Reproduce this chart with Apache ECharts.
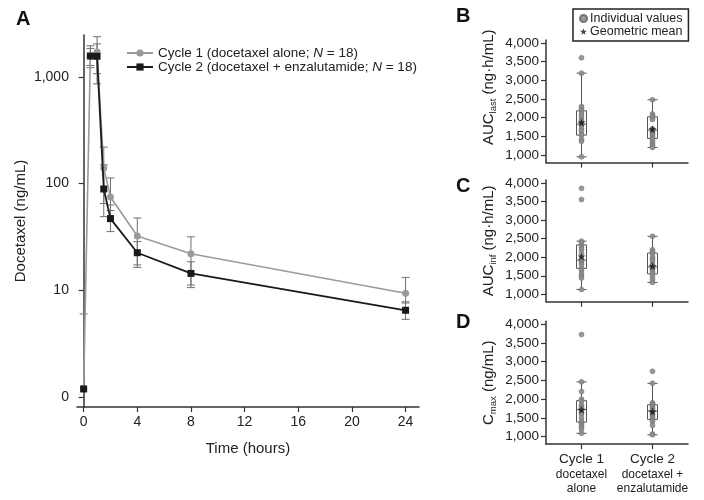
<!DOCTYPE html>
<html><head><meta charset="utf-8">
<script src="https://cdn.jsdelivr.net/npm/echarts@6/dist/echarts.min.js"></script>
<style>html,body{margin:0;padding:0;background:#fff}#c{width:704px;height:500px}</style>
</head><body><div id="c"></div>
<script>
// ---------- Panel A data ----------
const timeHours = [0, 0.5, 1, 1.5, 2, 4, 8, 24];
const cycle1Mean  = [1.2, 1550, 1710, 140, 75, 32.3, 22, 9.4];
const cycle1Lower = [1.2, 1280, 1070, 65, 56, 17.3, 11.2, 7.6];
const cycle1Upper = [6.0, 1850, 2380, 220, 113, 47.6, 31.7, 13.2];
const cycle2Mean  = [1.19, 1570, 1560, 89, 47, 22.5, 14.4, 6.5];
const cycle2Lower = [1.19, 1220, 860, 49, 35.5, 16.4, 10.6, 5.35];
const cycle2Upper = [1.19, 1960, 2040, 150, 63, 28.6, 18.5, 7.8];
const yTickValues = [1, 10, 100, 1000];
const yTickLabels = ['0', '10', '100', '1,000'];
const xTickValues = [0, 4, 8, 12, 16, 20, 24];
const seriesNames = ['Cycle 1 (docetaxel alone; N = 18)', 'Cycle 2 (docetaxel + enzalutamide; N = 18)'];

// ---------- Panels B–D data ----------
const boxCategories = ['Cycle 1', 'Cycle 2'];
const boxSubLabels = [['docetaxel', 'alone'], ['docetaxel +', 'enzalutamide']];
const boxTicks = [1000, 1500, 2000, 2500, 3000, 3500, 4000];

const aucLastC1 = [3600, 3190, 2300, 2250, 2180, 2100, 2030, 1950, 1900, 1840, 1800, 1720, 1650, 1560, 1530, 1420, 1370, 955];
const aucLastC2 = [2480, 2100, 2050, 2000, 1950, 1700, 1690, 1660, 1640, 1600, 1550, 1500, 1450, 1420, 1350, 1300, 1250, 1205];
const aucLastBox = [[955, 1534, 1828, 2183, 3190], [1205, 1446, 1668, 2023, 2480]];
const aucLastGeoMean = [1870, 1690];

const aucInfC1 = [3850, 3550, 2430, 2380, 2300, 2250, 2200, 2100, 1950, 1900, 1850, 1800, 1700, 1650, 1560, 1500, 1440, 1130];
const aucInfC2 = [2560, 2200, 2150, 2100, 2000, 1950, 1900, 1800, 1780, 1750, 1720, 1700, 1650, 1600, 1550, 1480, 1400, 1320];
const aucInfBox = [[1130, 1700, 1920, 2330, 2430], [1320, 1550, 1740, 2110, 2560]];
const aucInfGeoMean = [2020, 1760];

const cmaxC1 = [3720, 2460, 2200, 2000, 1950, 1850, 1800, 1750, 1700, 1650, 1600, 1500, 1400, 1350, 1300, 1250, 1200, 1090];
const cmaxC2 = [2740, 2420, 1900, 1880, 1850, 1800, 1750, 1700, 1680, 1650, 1600, 1550, 1500, 1450, 1400, 1300, 1070, 1050];
const cmaxBox = [[1090, 1390, 1720, 1960, 2460], [1050, 1460, 1680, 1850, 2420]];
const cmaxGeoMean = [1720, 1670];

// ---------- styling ----------
const FONT = 'Liberation Sans, Arial, Helvetica, sans-serif';
const AXIS = '#333';
const STAR = 'path://M50,0 L61.8,35.1 L98.8,35.1 L68.9,56.9 L80.3,91.9 L50,70.2 L19.7,91.9 L31.1,56.9 L1.2,35.1 L38.2,35.1 Z';

const chart = echarts.init(document.getElementById('c'), null, {renderer: 'canvas'});

function errorBars(mean, lower, upper) {
  return {
    type: 'custom', xAxisIndex: 0, yAxisIndex: 0, z: 1, silent: true,
    data: timeHours.map((t, i) => [t, lower[i], upper[i], mean[i]]),
    renderItem(params, api) {
      const x = api.value(0), lo = api.value(1), hi = api.value(2), m = api.value(3);
      const pLo = api.coord([x, lo]), pHi = api.coord([x, hi]);
      const hw = 4, st = {stroke: '#707070', lineWidth: 1};
      const ch = [{type: 'line', shape: {x1: pLo[0], y1: pLo[1], x2: pHi[0], y2: pHi[1]}, style: st}];
      if (hi !== m) ch.push({type: 'line', shape: {x1: pHi[0] - hw, y1: pHi[1], x2: pHi[0] + hw, y2: pHi[1]}, style: st});
      if (lo !== m) ch.push({type: 'line', shape: {x1: pLo[0] - hw, y1: pLo[1], x2: pLo[0] + hw, y2: pLo[1]}, style: st});
      return {type: 'group', children: ch};
    }
  };
}

const boxGrids = [
  {top: 40, height: 122.6},
  {top: 180, height: 121.8},
  {top: 321.2, height: 123}
];
const boxNames = [
  '{m|AUC}{s|last}{m| (ng·h/mL)}',
  '{m|AUC}{s|inf}{m| (ng·h/mL)}',
  '{m|C}{s|max}{m| (ng/mL)}'
];
const boxNamePad = [[0, 0, 0, 28], [0, 0, 0, 0], [0, 0, 0, 0]];
const boxPoints = [[aucLastC1, aucLastC2], [aucInfC1, aucInfC2], [cmaxC1, cmaxC2]];
const boxStats = [aucLastBox, aucInfBox, cmaxBox];
const boxGeo = [aucLastGeoMean, aucInfGeoMean, cmaxGeoMean];

const grids = [{left: 66, right: 285, top: 35, bottom: 93}];
const xAxes = [{
  gridIndex: 0, type: 'value', min: -0.5, max: 25,
  name: 'Time (hours)', nameLocation: 'middle', nameGap: 34,
  nameTextStyle: {fontFamily: FONT, fontSize: 15, color: '#222'},
  axisLine: {lineStyle: {color: AXIS, width: 1.5}},
  axisTick: {show: true, length: 5, customValues: xTickValues, lineStyle: {color: AXIS, width: 1.2}},
  axisLabel: {customValues: xTickValues, fontFamily: FONT, fontSize: 14, color: '#222', margin: 8},
  splitLine: {show: false}
}];
const yAxes = [{
  gridIndex: 0, type: 'log', logBase: 10, min: 0.806, max: 2470,
  name: 'Docetaxel (ng/mL)', nameLocation: 'middle', nameGap: 49,
  nameTextStyle: {fontFamily: FONT, fontSize: 15, color: '#222'},
  axisLine: {show: true, lineStyle: {color: AXIS, width: 1.5}},
  axisTick: {show: true, length: 5, customValues: yTickValues, lineStyle: {color: AXIS, width: 1.2}},
  axisLabel: {customValues: yTickValues, fontFamily: FONT, fontSize: 14, color: '#222', margin: 8,
    formatter: v => { const i = yTickValues.findIndex(t => Math.abs(t - v) / t < 1e-6); return i >= 0 ? yTickLabels[i] : ''; }},
  splitLine: {show: false}
}];

const series = [
  errorBars(cycle1Mean, cycle1Lower, cycle1Upper),
  errorBars(cycle2Mean, cycle2Lower, cycle2Upper),
  {
    name: seriesNames[0], type: 'line', xAxisIndex: 0, yAxisIndex: 0, z: 2,
    data: timeHours.map((t, i) => [t, cycle1Mean[i]]),
    symbol: 'circle', symbolSize: 7, showAllSymbol: true,
    lineStyle: {color: '#9a9a9a', width: 1.6}, itemStyle: {color: '#9a9a9a'}
  },
  {
    name: seriesNames[1], type: 'line', xAxisIndex: 0, yAxisIndex: 0, z: 3,
    // the pre-dose point is not joined to the curve in the reference
    data: [[timeHours[0], cycle2Mean[0]], [timeHours[0], '-']].concat(timeHours.slice(1).map((t, i) => [t, cycle2Mean[i + 1]])),
    connectNulls: false,
    symbol: 'rect', symbolSize: 7, showAllSymbol: true,
    lineStyle: {color: '#1a1a1a', width: 1.8}, itemStyle: {color: '#1a1a1a'}
  }
];

boxGrids.forEach((g, k) => {
  const gi = k + 1;
  grids.push({left: 546, right: 16, top: g.top, height: g.height});
  xAxes.push({
    gridIndex: gi, type: 'category', data: boxCategories, boundaryGap: true,
    axisLine: {lineStyle: {color: AXIS, width: 1.5}},
    axisTick: {show: true, alignWithLabel: true, length: 5, lineStyle: {color: AXIS, width: 1.2}},
    axisLabel: k === 2 ? {
      show: true, margin: 7, interval: 0, fontFamily: FONT, color: '#222',
      formatter: (v, idx) => `{a|${v}}\n{b|${boxSubLabels[idx][0]}}\n{b|${boxSubLabels[idx][1]}}`,
      rich: {a: {fontFamily: FONT, fontSize: 13.5, lineHeight: 16, color: '#222'},
             b: {fontFamily: FONT, fontSize: 12, lineHeight: 14, color: '#222'}}
    } : {show: false},
    splitLine: {show: false}
  });
  yAxes.push({
    gridIndex: gi, type: 'value', min: 800, max: 4075,
    name: boxNames[k], nameLocation: 'middle', nameGap: 48,
    nameTextStyle: {fontFamily: FONT, color: '#222', padding: boxNamePad[k],
      rich: {m: {fontFamily: FONT, fontSize: 15, lineHeight: 18, color: '#222'},
             s: {fontFamily: FONT, fontSize: 9.5, lineHeight: 18, verticalAlign: 'bottom', color: '#222'}}},
    axisLine: {show: true, lineStyle: {color: AXIS, width: 1.5}},
    axisTick: {show: true, length: 5, customValues: boxTicks, lineStyle: {color: AXIS, width: 1.2}},
    axisLabel: {customValues: boxTicks, fontFamily: FONT, fontSize: 13.5, color: '#222', margin: 7,
      formatter: v => Number(v).toLocaleString('en-US')},
    splitLine: {show: false}
  });
  series.push({
    type: 'boxplot', xAxisIndex: gi, yAxisIndex: gi, z: 2, silent: true,
    boxWidth: [10, 10],
    data: boxStats[k],
    itemStyle: {color: 'rgba(255,255,255,0)', borderColor: '#555', borderWidth: 1}
  });
  series.push({
    name: 'Individual values', type: 'scatter', xAxisIndex: gi, yAxisIndex: gi, z: 3,
    data: boxPoints[k].flatMap((arr, c) => arr.map(v => [c, v])),
    symbol: 'circle', symbolSize: 5,
    itemStyle: {color: '#8e8e8e', opacity: 0.9, borderColor: '#6a6a6a', borderWidth: 0.5}
  });
  series.push({
    name: 'Geometric mean', type: 'scatter', xAxisIndex: gi, yAxisIndex: gi, z: 4,
    data: boxGeo[k].map((v, c) => [c, v]),
    symbol: STAR, symbolSize: 8,
    itemStyle: {color: '#111'}
  });
});

const letter = (t, x, y) => ({type: 'text', left: x, top: y, style: {text: t, font: 'bold 20px ' + FONT, fill: '#111'}});

chart.setOption({
  animation: false,
  backgroundColor: '#fff',
  grid: grids, xAxis: xAxes, yAxis: yAxes, series: series,
  legend: [
    {
      data: seriesNames, left: 121, top: 41, orient: 'vertical', itemGap: 0,
      itemWidth: 26, itemHeight: 9, selectedMode: false,
      textStyle: {fontFamily: FONT, fontSize: 13.5, color: '#222', rich: {i: {fontFamily: FONT, fontSize: 13.5, fontStyle: 'italic', color: '#222'}}},
      formatter: n => n.replace('N =', '{i|N} =')
    },
    {
      data: ['Individual values', 'Geometric mean'], left: 573, top: 9, orient: 'vertical', itemGap: 0,
      itemWidth: 7, itemHeight: 7, selectedMode: false,
      borderColor: '#222', borderWidth: 1.5, padding: [3, 6, 3, 6],
      textStyle: {fontFamily: FONT, fontSize: 12.5, color: '#222', padding: [0, 0, 0, -2]}
    }
  ],
  graphic: [letter('A', 16, 9), letter('B', 456, 6), letter('C', 456, 176), letter('D', 456, 312)]
});
</script></body></html>
